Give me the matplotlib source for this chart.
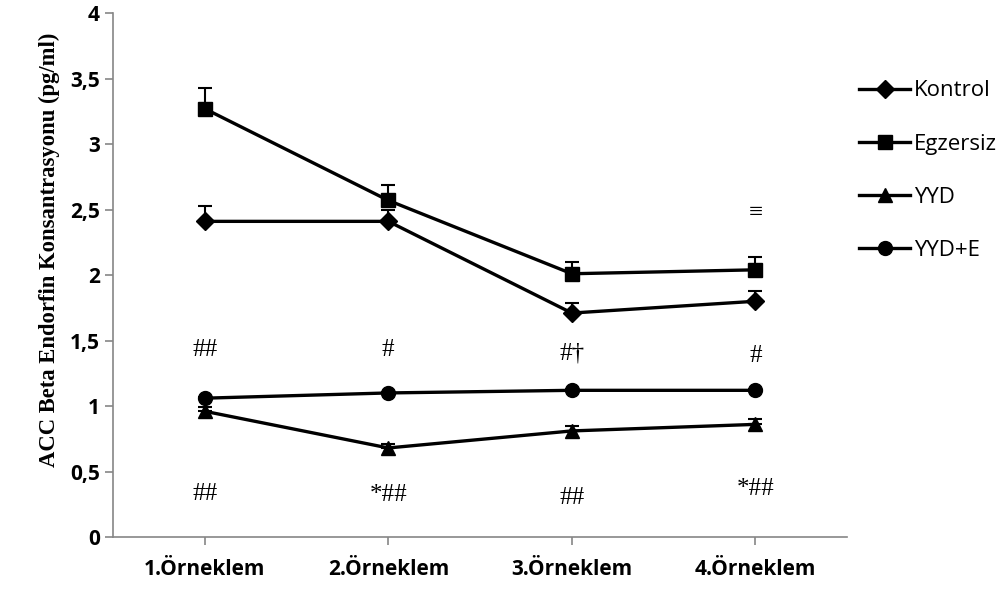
import numpy as np
import matplotlib.pyplot as plt

categories = ['1.Örneklem', '2.Örneklem', '3.Örneklem', '4.Örneklem']
kontrol = [2.41, 2.41, 1.71, 1.80]
kontrol_err = [0.12, 0.09, 0.08, 0.08]
egzersiz = [3.27, 2.57, 2.01, 2.04]
egzersiz_err = [0.16, 0.12, 0.09, 0.10]
yyd = [0.96, 0.68, 0.81, 0.86]
yyd_err = [0.03, 0.03, 0.04, 0.04]
yyde = [1.06, 1.10, 1.12, 1.12]
yyde_err = [0.01, 0.01, 0.01, 0.01]

# significance marks: (category index, y, text)
upper_marks = [(0, 1.43, '##'), (1, 1.43, '#'), (2, 1.40, '#†'), (3, 1.38, '#'), (3, 2.47, '≡')]
lower_marks = [(0, 0.33, '##'), (1, 0.32, '*##'), (2, 0.30, '##'), (3, 0.37, '*##')]

x = np.arange(len(categories)) + 0.5

fig = plt.figure(figsize=(10.05, 5.9), dpi=100)
ax = fig.add_axes([0.1124, 0.0898, 0.7306, 0.888])

series = [
    ('Kontrol', kontrol, kontrol_err, 'D', 9),
    ('Egzersiz', egzersiz, egzersiz_err, 's', 10),
    ('YYD', yyd, yyd_err, '^', 10),
    ('YYD+E', yyde, yyde_err, 'o', 10),
]
handles = []
for name, vals, err, mk, ms in series:
    ax.errorbar(x, vals, yerr=[np.zeros(len(err)), err], fmt='none',
                ecolor='black', elinewidth=1.5, capsize=5, capthick=1.5)
    h, = ax.plot(x, vals, color='black', lw=2.4, marker=mk, markersize=ms,
                 markerfacecolor='black', markeredgecolor='black', label=name)
    handles.append(h)

for i, yv, t in upper_marks + lower_marks:
    ax.text(x[i], yv, t, ha='center', va='center', fontsize=18,
            family=['Liberation Serif', 'DejaVu Serif'])

ax.set_xlim(0, 4)
ax.set_ylim(0, 4)
ax.set_xticks(x)
ax.set_xticklabels(categories, fontsize=15, fontweight='bold', family='Open Sans')
ax.set_yticks(np.arange(0, 4.01, 0.5))
ax.set_yticklabels(['0', '0,5', '1', '1,5', '2', '2,5', '3', '3,5', '4'],
                   fontsize=15, fontweight='bold', family='Open Sans')
ax.tick_params(axis='both', colors='#868686', length=6, width=1.2, labelcolor='black')
ax.tick_params(axis='x', pad=10)
for s in ['top', 'right']:
    ax.spines[s].set_visible(False)
for s in ['left', 'bottom']:
    ax.spines[s].set_color('#868686')
    ax.spines[s].set_linewidth(1.2)

ax.set_ylabel('ACC Beta Endorfin Konsantrasyonu (pg/ml)', fontsize=16.3,
              fontweight='bold', family='Liberation Serif')
ax.yaxis.set_label_coords(-0.072, 0.548)

fig.legend(handles=handles, loc='upper left', bbox_to_anchor=(0.846, 0.879),
           frameon=False, prop={'family': 'Open Sans', 'size': 16},
           handlelength=2.3, handletextpad=0.15, labelspacing=1.45, borderaxespad=0)

fig.savefig('out.png', dpi=100)
